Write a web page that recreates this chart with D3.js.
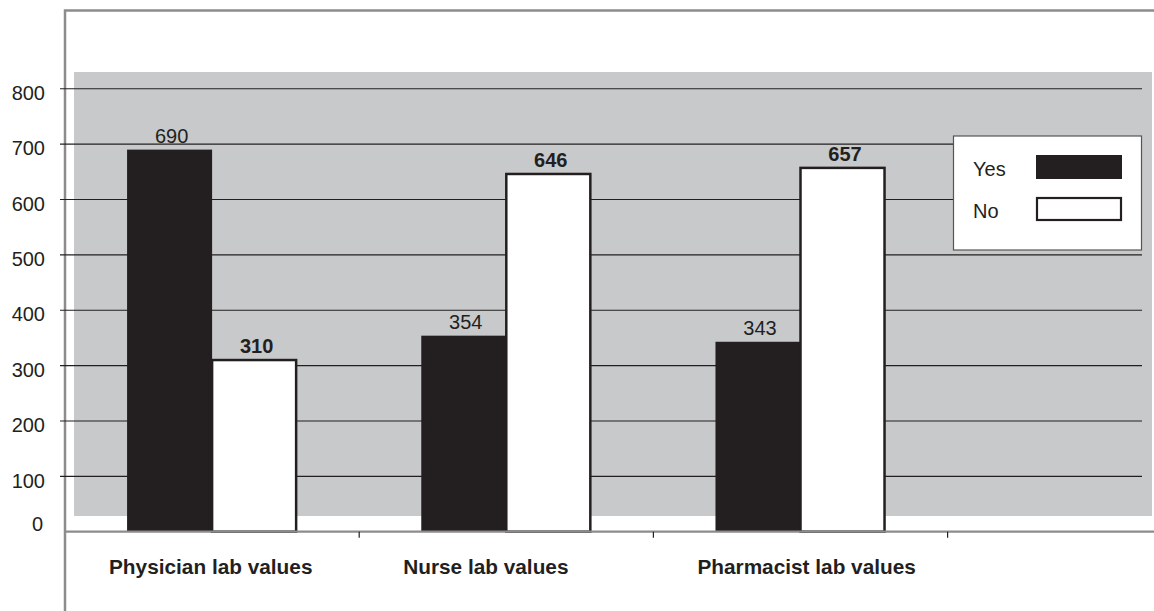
<!DOCTYPE html>
<html><head><meta charset="utf-8">
<script src="https://cdn.jsdelivr.net/npm/d3@7"></script>
<style>body{margin:0;background:#fff}svg{display:block}</style></head>
<body><svg id="c" width="1154" height="611"></svg>
<script>
const categories = ["Physician lab values", "Nurse lab values", "Pharmacist lab values"];
const seriesNames = ["Yes", "No"];
const yesValues = [690, 354, 343];
const noValues = [310, 646, 657];
const yTicks = [0, 100, 200, 300, 400, 500, 600, 700, 800];

const FONT = "'Liberation Sans', Arial, Helvetica, sans-serif";
const DARK = "#231f20";
const svg = d3.select("#c");

const x = d3.scaleBand().domain(categories).range([65, 947.6]).paddingInner(0).paddingOuter(0);
const x1 = d3.scaleBand().domain(seriesNames).range([0, x.bandwidth()]).paddingInner(0).paddingOuter(0.73);
const y = d3.scaleLinear().domain([0, 800]).range([531.7, 88.7]);

const data = categories.map((c, i) => ({cat: c, Yes: yesValues[i], No: noValues[i]}));

// gray plot background
svg.append("rect").attr("x", 74).attr("y", 72).attr("width", 1152 - 74).attr("height", 516 - 72).attr("fill", "#c8c9cb");

// outer frame (top & left)
svg.append("path").attr("d", "M65,611 V10.5 H1154").attr("fill", "none").attr("stroke", "#8c8c8c").attr("stroke-width", 2.5);

// gridlines
svg.append("g").selectAll("line").data(yTicks.filter(d => d > 0)).join("line")
  .attr("x1", 60).attr("x2", 1142).attr("y1", d => y(d)).attr("y2", d => y(d))
  .attr("stroke", DARK).attr("stroke-width", 1.1);

// y tick labels
svg.append("g").selectAll("text").data(yTicks).join("text")
  .attr("x", d => d === 0 ? 43 : 45)
  .attr("y", d => d === 0 ? y(d) - 6 : y(d) + 6)
  .attr("dominant-baseline", "middle").attr("text-anchor", "end")
  .attr("font-family", FONT).attr("font-size", 20).attr("fill", DARK)
  .text(d => d);

// bars
const groups = svg.append("g").selectAll("g").data(data).join("g")
  .attr("transform", d => `translate(${x(d.cat)},0)`);
groups.append("rect")
  .attr("x", x1("Yes")).attr("width", x1.bandwidth())
  .attr("y", d => y(d.Yes)).attr("height", d => y(0) - y(d.Yes))
  .attr("fill", DARK);
groups.append("rect")
  .attr("x", x1("No")).attr("width", x1.bandwidth() - 1)
  .attr("y", d => y(d.No)).attr("height", d => y(0) - y(d.No))
  .attr("fill", "#fff").attr("stroke", DARK).attr("stroke-width", 2.5);

// value labels
groups.append("text")
  .attr("x", x1("Yes") + x1.bandwidth() / 2 + 2).attr("y", d => y(d.Yes) - 7)
  .attr("text-anchor", "middle").attr("font-family", FONT).attr("font-size", 20).attr("fill", DARK)
  .text(d => d.Yes);
groups.append("text")
  .attr("x", x1("No") + x1.bandwidth() / 2 + 2).attr("y", d => y(d.No) - 7)
  .attr("text-anchor", "middle").attr("font-family", FONT).attr("font-size", 20).attr("font-weight", "bold").attr("fill", DARK)
  .text(d => d.No);

// x axis line
svg.append("line").attr("x1", 64).attr("x2", 1154).attr("y1", y(0)).attr("y2", y(0))
  .attr("stroke", "#8c8c8c").attr("stroke-width", 2.2);
// category boundary ticks
svg.append("g").selectAll("line").data(categories).join("line")
  .attr("x1", d => x(d) + x.bandwidth()).attr("x2", d => x(d) + x.bandwidth())
  .attr("y1", y(0)).attr("y2", y(0) + 6)
  .attr("stroke", DARK).attr("stroke-width", 1.2);

// category labels
svg.append("g").selectAll("text").data(categories).join("text")
  .attr("x", d => x(d) + 44).attr("y", 574)
  .attr("font-family", FONT).attr("font-size", 20.8).attr("font-weight", "bold").attr("fill", DARK)
  .text(d => d);

// legend
const lg = svg.append("g");
lg.append("rect").attr("x", 953.5).attr("y", 136).attr("width", 188).attr("height", 114)
  .attr("fill", "#fff").attr("stroke", "#555").attr("stroke-width", 1.2);
const legendRows = lg.selectAll("g").data(seriesNames).join("g")
  .attr("transform", (d, i) => `translate(0,${167 + i * 42})`);
legendRows.append("text").attr("x", 973).attr("y", 9)
  .attr("font-family", FONT).attr("font-size", 20).attr("fill", DARK).text(d => d);
legendRows.append("rect")
  .attr("x", d => d === "Yes" ? 1036 : 1037).attr("y", d => d === "Yes" ? -12 : -11)
  .attr("width", d => d === "Yes" ? 86 : 84).attr("height", d => d === "Yes" ? 24 : 22)
  .attr("fill", d => d === "Yes" ? DARK : "#fff")
  .attr("stroke", d => d === "Yes" ? "none" : DARK).attr("stroke-width", 2.2);
</script>
</body></html>
